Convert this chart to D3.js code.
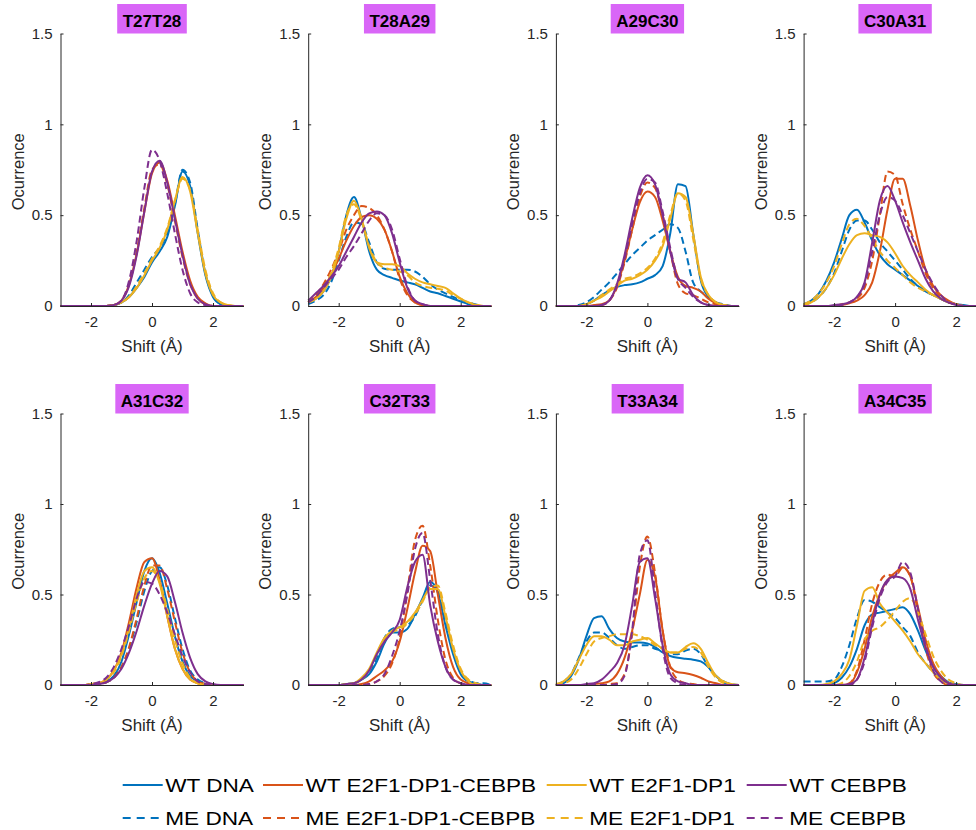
<!DOCTYPE html>
<html>
<head>
<meta charset="utf-8">
<script src="https://cdn.jsdelivr.net/npm/d3@7"></script>
<style>
  html, body { margin: 0; padding: 0; background: #ffffff; }
  svg { display: block; font-family: "Liberation Sans", Arial, Helvetica, sans-serif; }
</style>
</head>
<body>
<svg id="chart" width="976" height="830"></svg>
<script>
// ---------- DATA ----------
const shiftGrid = d3.range(25).map(i => -3 + i * 0.25);   // Å
const xTicks = [-2, 0, 2];
const yTicks = [0, 0.5, 1, 1.5];
const yTickLabels = ["0", "0.5", "1", "1.5"];
const panelNames = ["T27T28", "T28A29", "A29C30", "C30A31", "A31C32", "C32T33", "T33A34", "A34C35"];
const seriesNames = ["WT DNA", "ME DNA", "WT E2F1-DP1-CEBPB", "ME E2F1-DP1-CEBPB",
                     "WT E2F1-DP1", "ME E2F1-DP1", "WT CEBPB", "ME CEBPB"];
const seriesColors = ["#0072BD", "#0072BD", "#D95319", "#D95319", "#EDB120", "#EDB120", "#7E2F8E", "#7E2F8E"];
const seriesDashed = [false, true, false, true, false, true, false, true];

// each panel: rows in seriesNames order, values on shiftGrid (-3 .. 3 step 0.25)
const T27T28 = [
  [0,0,0,0,0,0,0,0.005,0.02,0.05,0.1,0.16,0.24,0.3,0.38,0.55,0.74,0.66,0.4,0.17,0.05,0.01,0,0,0],
  [0,0,0,0,0,0,0,0.005,0.02,0.06,0.13,0.2,0.27,0.32,0.4,0.56,0.75,0.68,0.42,0.18,0.06,0.01,0,0,0],
  [0,0,0,0,0,0,0,0.005,0.03,0.12,0.29,0.52,0.73,0.79,0.69,0.5,0.3,0.14,0.05,0.015,0,0,0,0,0],
  [0,0,0,0,0,0,0,0.005,0.03,0.12,0.3,0.54,0.75,0.78,0.67,0.47,0.27,0.12,0.04,0.01,0,0,0,0,0],
  [0,0,0,0,0,0,0,0.005,0.02,0.05,0.1,0.17,0.25,0.32,0.42,0.58,0.71,0.63,0.4,0.18,0.06,0.02,0.005,0,0],
  [0,0,0,0,0,0,0,0.005,0.02,0.05,0.11,0.18,0.26,0.33,0.43,0.58,0.7,0.64,0.42,0.2,0.07,0.02,0.005,0,0],
  [0,0,0,0,0,0,0,0.005,0.03,0.11,0.28,0.52,0.74,0.8,0.68,0.48,0.28,0.12,0.04,0.01,0,0,0,0,0],
  [0,0,0,0,0,0,0,0.005,0.03,0.14,0.36,0.65,0.86,0.8,0.62,0.4,0.2,0.07,0.02,0.005,0,0,0,0,0]
];
const T28A29 = [
  [0.02,0.04,0.08,0.16,0.3,0.5,0.6,0.48,0.3,0.2,0.17,0.155,0.14,0.13,0.12,0.1,0.08,0.07,0.055,0.04,0.025,0.01,0.003,0,0],
  [0.01,0.03,0.06,0.13,0.25,0.38,0.46,0.45,0.35,0.24,0.205,0.2,0.2,0.2,0.19,0.16,0.12,0.09,0.07,0.05,0.035,0.02,0.008,0,0],
  [0.02,0.05,0.1,0.17,0.26,0.36,0.44,0.49,0.5,0.48,0.42,0.3,0.16,0.07,0.02,0.005,0,0,0,0,0,0,0,0,0],
  [0.02,0.06,0.12,0.2,0.3,0.42,0.5,0.55,0.54,0.5,0.42,0.3,0.15,0.06,0.02,0.005,0,0,0,0,0,0,0,0,0],
  [0.02,0.04,0.08,0.16,0.3,0.48,0.58,0.48,0.32,0.24,0.23,0.23,0.22,0.18,0.15,0.13,0.12,0.11,0.1,0.07,0.04,0.02,0.005,0,0],
  [0.02,0.04,0.09,0.18,0.32,0.5,0.56,0.47,0.33,0.24,0.21,0.2,0.19,0.17,0.13,0.11,0.1,0.095,0.085,0.06,0.04,0.02,0.008,0,0],
  [0.03,0.07,0.11,0.16,0.22,0.3,0.38,0.46,0.51,0.52,0.5,0.4,0.24,0.1,0.03,0.01,0,0,0,0,0,0,0,0,0],
  [0.02,0.05,0.1,0.15,0.2,0.27,0.33,0.4,0.47,0.51,0.5,0.42,0.26,0.11,0.03,0.01,0,0,0,0,0,0,0,0,0]
];
const A29C30 = [
  [0,0,0,0,0.01,0.03,0.06,0.085,0.105,0.115,0.12,0.13,0.15,0.17,0.22,0.4,0.67,0.66,0.4,0.14,0.05,0.02,0.005,0,0],
  [0,0,0,0.005,0.02,0.05,0.09,0.13,0.18,0.23,0.28,0.32,0.36,0.39,0.42,0.45,0.43,0.3,0.13,0.08,0.05,0.02,0.01,0,0],
  [0,0,0,0,0,0.005,0.01,0.03,0.11,0.25,0.42,0.57,0.63,0.6,0.47,0.3,0.16,0.11,0.1,0.08,0.04,0.015,0.005,0,0],
  [0,0,0,0,0,0,0.005,0.03,0.1,0.24,0.42,0.6,0.68,0.65,0.5,0.3,0.12,0.07,0.06,0.04,0.02,0.01,0,0,0],
  [0,0,0,0,0.01,0.03,0.05,0.08,0.11,0.14,0.15,0.17,0.2,0.25,0.33,0.48,0.62,0.6,0.4,0.16,0.06,0.02,0.005,0,0],
  [0,0,0,0,0.01,0.03,0.06,0.09,0.12,0.15,0.16,0.18,0.21,0.26,0.35,0.5,0.62,0.58,0.37,0.15,0.06,0.02,0.005,0,0],
  [0,0,0,0,0,0,0.005,0.03,0.12,0.28,0.48,0.65,0.72,0.67,0.5,0.3,0.15,0.13,0.06,0.02,0.005,0,0,0,0],
  [0,0,0,0,0,0,0.005,0.03,0.11,0.26,0.45,0.62,0.7,0.68,0.52,0.32,0.15,0.1,0.05,0.02,0.005,0,0,0,0]
];
const C30A31 = [
  [0.01,0.03,0.07,0.14,0.24,0.37,0.5,0.53,0.46,0.36,0.28,0.23,0.2,0.17,0.14,0.11,0.08,0.06,0.04,0.02,0.01,0.005,0,0,0],
  [0.005,0.02,0.05,0.1,0.18,0.3,0.42,0.47,0.47,0.42,0.35,0.3,0.25,0.2,0.15,0.11,0.08,0.06,0.04,0.02,0.01,0,0,0,0],
  [0,0,0,0,0,0.005,0.015,0.03,0.06,0.13,0.3,0.53,0.7,0.7,0.55,0.36,0.2,0.11,0.06,0.03,0.01,0,0,0,0],
  [0,0,0,0,0,0.01,0.02,0.04,0.1,0.25,0.5,0.74,0.72,0.56,0.42,0.3,0.18,0.1,0.05,0.02,0.01,0,0,0,0],
  [0.005,0.02,0.05,0.1,0.17,0.26,0.34,0.39,0.4,0.39,0.38,0.35,0.29,0.22,0.17,0.13,0.09,0.06,0.04,0.02,0.01,0,0,0,0],
  [0.01,0.03,0.07,0.13,0.22,0.34,0.45,0.48,0.44,0.37,0.3,0.25,0.21,0.17,0.13,0.1,0.08,0.06,0.04,0.02,0.01,0,0,0,0],
  [0,0,0,0,0.005,0.01,0.02,0.05,0.13,0.35,0.58,0.66,0.58,0.46,0.35,0.25,0.15,0.08,0.04,0.02,0.005,0,0,0,0],
  [0,0,0,0,0,0.005,0.02,0.05,0.12,0.3,0.5,0.6,0.58,0.5,0.4,0.3,0.2,0.12,0.06,0.02,0.01,0,0,0,0]
];
const A31C32 = [
  [0,0,0,0,0,0.005,0.02,0.05,0.13,0.28,0.46,0.63,0.7,0.62,0.45,0.27,0.13,0.05,0.02,0.005,0,0,0,0,0],
  [0,0,0,0,0,0.005,0.015,0.04,0.1,0.2,0.35,0.52,0.63,0.65,0.55,0.37,0.2,0.08,0.03,0.01,0,0,0,0,0],
  [0,0,0,0,0.005,0.01,0.03,0.08,0.18,0.35,0.54,0.68,0.7,0.58,0.38,0.2,0.09,0.03,0.01,0,0,0,0,0,0],
  [0,0,0,0,0,0.005,0.015,0.04,0.1,0.21,0.37,0.55,0.66,0.66,0.53,0.35,0.18,0.07,0.02,0.005,0,0,0,0,0],
  [0,0,0,0,0.005,0.01,0.03,0.08,0.17,0.32,0.5,0.63,0.65,0.56,0.38,0.2,0.09,0.03,0.01,0,0,0,0,0,0],
  [0,0,0,0,0.005,0.01,0.03,0.07,0.16,0.3,0.46,0.59,0.63,0.57,0.42,0.25,0.12,0.04,0.01,0.005,0,0,0,0,0],
  [0,0,0,0,0,0.005,0.015,0.04,0.09,0.18,0.3,0.44,0.56,0.63,0.6,0.46,0.29,0.15,0.06,0.02,0.005,0,0,0,0],
  [0,0,0,0,0.005,0.015,0.04,0.1,0.2,0.33,0.48,0.57,0.56,0.5,0.4,0.28,0.16,0.07,0.02,0.005,0,0,0,0,0]
];
const C32T33 = [
  [0,0,0,0,0,0.005,0.01,0.03,0.06,0.13,0.23,0.29,0.29,0.31,0.39,0.48,0.57,0.51,0.33,0.17,0.06,0.02,0.01,0,0],
  [0,0,0,0,0,0.005,0.01,0.03,0.07,0.15,0.26,0.31,0.32,0.33,0.38,0.47,0.55,0.52,0.36,0.2,0.07,0.03,0.01,0.01,0],
  [0,0,0,0,0,0,0,0.005,0.02,0.05,0.08,0.13,0.24,0.42,0.62,0.77,0.74,0.5,0.26,0.1,0.03,0.01,0,0,0],
  [0,0,0,0,0,0,0,0,0.005,0.02,0.05,0.12,0.26,0.52,0.8,0.88,0.66,0.36,0.14,0.04,0.01,0.005,0,0,0],
  [0,0,0,0,0,0.005,0.01,0.04,0.09,0.18,0.26,0.3,0.32,0.35,0.4,0.47,0.53,0.53,0.38,0.2,0.08,0.02,0,0,0],
  [0,0,0,0,0,0.005,0.01,0.03,0.08,0.17,0.25,0.29,0.31,0.34,0.39,0.46,0.54,0.55,0.4,0.22,0.09,0.03,0.01,0,0],
  [0,0,0,0,0,0.005,0.01,0.03,0.08,0.17,0.24,0.29,0.36,0.54,0.68,0.72,0.44,0.24,0.1,0.03,0.01,0,0,0,0],
  [0,0,0,0,0,0,0,0,0.005,0.02,0.06,0.16,0.3,0.5,0.75,0.84,0.58,0.28,0.1,0.03,0.01,0,0,0,0]
];
const T33A34 = [
  [0,0.01,0.05,0.14,0.27,0.37,0.38,0.31,0.26,0.24,0.235,0.235,0.23,0.21,0.18,0.16,0.15,0.145,0.14,0.13,0.1,0.05,0.015,0,0],
  [0,0.02,0.06,0.15,0.24,0.29,0.29,0.26,0.22,0.2,0.21,0.22,0.22,0.2,0.19,0.17,0.17,0.19,0.2,0.17,0.1,0.05,0.02,0.005,0],
  [0,0,0,0,0,0.005,0.01,0.02,0.06,0.15,0.3,0.5,0.69,0.6,0.3,0.1,0.07,0.065,0.055,0.04,0.02,0.01,0,0,0],
  [0,0,0,0,0,0,0,0.005,0.01,0.06,0.28,0.65,0.82,0.62,0.3,0.1,0.03,0.01,0.005,0,0,0,0,0,0],
  [0.005,0.02,0.06,0.14,0.22,0.27,0.27,0.25,0.22,0.22,0.24,0.25,0.26,0.23,0.2,0.18,0.18,0.21,0.23,0.2,0.12,0.05,0.02,0.005,0],
  [0,0.01,0.03,0.09,0.17,0.24,0.26,0.27,0.28,0.28,0.28,0.27,0.25,0.22,0.2,0.18,0.18,0.2,0.21,0.18,0.1,0.04,0.01,0,0],
  [0,0,0,0,0.005,0.01,0.03,0.07,0.12,0.22,0.44,0.68,0.7,0.48,0.22,0.06,0.02,0.01,0,0,0,0,0,0,0],
  [0,0,0,0,0,0,0,0,0.005,0.05,0.3,0.72,0.8,0.52,0.2,0.04,0.01,0,0,0,0,0,0,0,0]
];
const A34C35 = [
  [0,0,0,0,0.01,0.04,0.1,0.2,0.33,0.39,0.4,0.41,0.42,0.43,0.39,0.3,0.19,0.1,0.05,0.015,0.005,0,0,0,0],
  [0.02,0.02,0.02,0.02,0.03,0.1,0.22,0.37,0.47,0.46,0.43,0.4,0.37,0.32,0.27,0.18,0.12,0.07,0.03,0.01,0,0,0,0,0],
  [0,0,0,0,0,0,0.005,0.07,0.2,0.38,0.5,0.58,0.62,0.65,0.6,0.43,0.25,0.12,0.05,0.01,0,0,0,0,0],
  [0,0,0,0,0,0,0.01,0.08,0.25,0.45,0.57,0.61,0.6,0.65,0.6,0.4,0.2,0.07,0.02,0,0,0,0,0,0],
  [0,0,0,0.005,0.02,0.06,0.14,0.33,0.52,0.54,0.45,0.4,0.35,0.3,0.24,0.17,0.12,0.07,0.03,0.01,0,0,0,0,0],
  [0,0,0,0,0,0.01,0.05,0.13,0.25,0.3,0.32,0.36,0.41,0.46,0.48,0.4,0.28,0.16,0.08,0.03,0.01,0,0,0,0],
  [0,0,0,0,0,0,0.005,0.03,0.15,0.34,0.5,0.58,0.6,0.59,0.53,0.36,0.21,0.1,0.04,0.01,0,0,0,0,0],
  [0,0,0,0,0,0,0,0.03,0.13,0.32,0.48,0.57,0.6,0.68,0.62,0.42,0.22,0.08,0.02,0,0,0,0,0,0]
];
const panelData = [T27T28, T28A29, A29C30, C30A31, A31C32, C32T33, T33A34, A34C35];

// ---------- LAYOUT ----------
const svg = d3.select("#chart");
const colLeft = [60.5, 308.2, 555.9, 803.6];
const plotW = 183;
const rowTop = [33.5, 413.5];
const rowBottom = [306, 685];
const axisColor = "#262626";

panelNames.forEach((name, pi) => {
  const col = pi % 4, row = Math.floor(pi / 4);
  const x = d3.scaleLinear().domain([-3, 3]).range([colLeft[col], colLeft[col] + plotW]);
  const y = d3.scaleLinear().domain([0, 1.5]).range([rowBottom[row], rowTop[row]]);
  const g = svg.append("g");

  // curves
  const line = d3.line()
    .x((d, i) => x(shiftGrid[i]))
    .y(d => y(d))
    .curve(d3.curveMonotoneX);
  panelData[pi].forEach((vals, si) => {
    g.append("path")
      .attr("d", line(vals))
      .attr("fill", "none")
      .attr("stroke", seriesColors[si])
      .attr("stroke-width", 2)
      .attr("stroke-linejoin", "round")
      .attr("stroke-dasharray", seriesDashed[si] ? "7,4" : null);
  });

  // axes (left and bottom, inward ticks)
  const yAxis = d3.axisLeft(y).tickValues(yTicks).tickFormat((d, i) => yTickLabels[i])
    .tickSizeInner(-3).tickSizeOuter(0).tickPadding(8);
  const xAxis = d3.axisBottom(x).tickValues(xTicks).tickFormat(d3.format("d"))
    .tickSizeInner(-3).tickSizeOuter(0).tickPadding(10);
  const ya = g.append("g").attr("transform", `translate(${colLeft[col]},0)`).call(yAxis);
  const xa = g.append("g").attr("transform", `translate(0,${rowBottom[row]})`).call(xAxis);
  [ya, xa].forEach(a => {
    a.select(".domain").attr("stroke", axisColor).attr("stroke-width", 1);
    a.selectAll(".tick line").attr("stroke", axisColor);
    a.selectAll(".tick text").attr("fill", axisColor).attr("font-size", 15)
      .attr("font-family", "Liberation Sans, Arial, sans-serif");
  });
  xa.selectAll(".tick text").text(d => d < 0 ? "-" + Math.abs(d) : d);

  // axis labels
  g.append("text")
    .attr("x", colLeft[col] + plotW / 2)
    .attr("y", rowBottom[row] + 46)
    .attr("text-anchor", "middle")
    .attr("font-size", 17)
    .attr("fill", axisColor)
    .text("Shift (Å)");
  g.append("text")
    .attr("transform", `translate(${colLeft[col] - 37},${(rowTop[row] + rowBottom[row]) / 2 + 2}) rotate(-90)`)
    .attr("text-anchor", "middle")
    .attr("font-size", 16.5)
    .attr("fill", axisColor)
    .text("Ocurrence");

  // title box
  const tg = g.append("g");
  const tt = tg.append("text")
    .attr("x", colLeft[col] + plotW / 2)
    .attr("y", rowTop[row] - 7)
    .attr("text-anchor", "middle")
    .attr("font-size", 17)
    .attr("font-weight", "bold")
    .attr("fill", "#000")
    .text(name);
  const bb = tt.node().getBBox();
  tg.insert("rect", "text")
    .attr("x", bb.x - 5.5)
    .attr("y", rowTop[row] - 29.5)
    .attr("width", bb.width + 11)
    .attr("height", 29.5)
    .attr("fill", "#d966f7");
});

// ---------- LEGEND ----------
const legendOrder = [0, 2, 4, 6, 1, 3, 5, 7];
const legLineX = [122.7, 263, 546.7, 746.7];
const legRowY = [785, 818];
legendOrder.forEach((si, k) => {
  const c = k % 4, r = Math.floor(k / 4);
  const lg = svg.append("g");
  lg.append("line")
    .attr("x1", legLineX[c]).attr("x2", legLineX[c] + 40)
    .attr("y1", legRowY[r]).attr("y2", legRowY[r])
    .attr("stroke", seriesColors[si])
    .attr("stroke-width", 2)
    .attr("stroke-dasharray", seriesDashed[si] ? "8,6" : null);
  lg.append("text")
    .attr("transform", `translate(${legLineX[c] + 42.5},${legRowY[r] + 6.7}) scale(1.19,1)`)
    .attr("font-size", 19)
    .attr("fill", "#000")
    .text(seriesNames[si]);
});
</script>
</body>
</html>
